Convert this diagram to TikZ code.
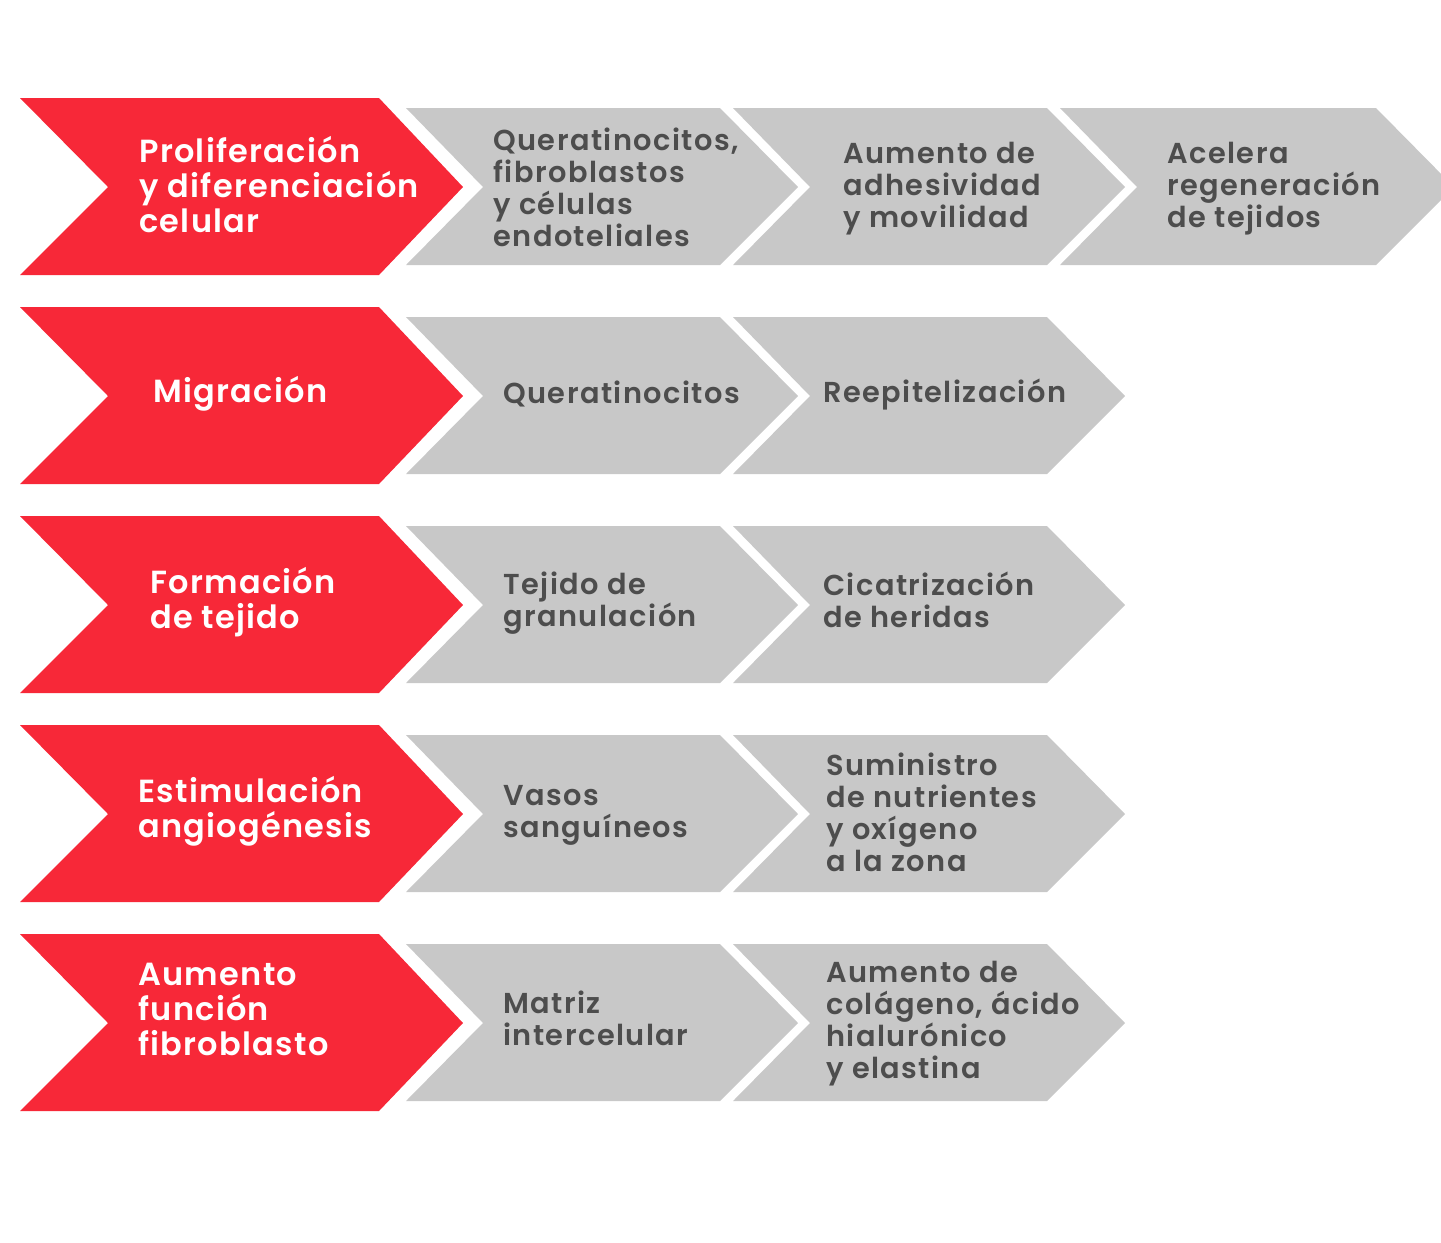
\documentclass[tikz,border=0pt]{standalone}
\usepackage{fontspec}
\newfontfamily\redfont{Poppins SemiBold}[LetterSpace=4]
\newfontfamily\grayfont{Poppins SemiBold}[LetterSpace=5]
\definecolor{chevred}{RGB}{247,40,56}
\definecolor{chevgray}{RGB}{200,200,200}
\definecolor{chevtext}{RGB}{77,77,77}

\begin{document}
\begin{tikzpicture}[x=0.02cm, y=-0.02cm,
    redtext/.style={anchor=base west, inner sep=0pt, align=left, text=white,
      font=\redfont\fontsize{18.2}{19.9}\selectfont},
    graytext/.style={anchor=base west, inner sep=0pt, align=left, text=chevtext,
      font=\grayfont\fontsize{16.4}{18.2}\selectfont}]
  \useasboundingbox (0,0) rectangle (1441,1242);
  % chevrons
  \foreach \c in {187,396,605,814,1023} {
    \fill[chevred] (20,\c-89) -- (379,\c-89) -- (463,\c) -- (379,\c+88)
      -- (20,\c+88) -- (108,\c) -- cycle;
    \foreach \s in {0,327} {
      \fill[chevgray] (406+\s,\c-79) -- (720+\s,\c-79) -- (798+\s,\c)
        -- (720+\s,\c+78) -- (406+\s,\c+78) -- (483+\s,\c) -- cycle;
    }
  }
  \fill[chevgray] (1060,108) -- (1376,108) -- (1454,187) -- (1376,265)
    -- (1060,265) -- (1137,187) -- cycle;
  % row 1 (nodes sit on the baseline of their last line)
  \node[redtext] (P1) at (139,232) {Proliferación\\y diferenciación\\celular};
  \node[graytext] (P1a) at (493,246) {Queratinocitos,\\fibroblastos\\y células\\endoteliales};
  \node[graytext] (P1b) at (843,227) {Aumento de\\adhesividad\\y movilidad};
  \node[graytext] (P1c) at (1167,227) {Acelera\\regeneración\\de tejidos};
  % row 2
  \node[redtext] (P2) at (153,402) {Migración};
  \node[graytext] (P2a) at (503,403) {Queratinocitos};
  \node[graytext] (P2b) at (823,402) {Reepitelización};
  % row 3
  \node[redtext] (P3) at (150,628) {Formación\\de tejido};
  \node[graytext] (P3a) at (503,626) {Tejido de\\granulación};
  \node[graytext] (P3b) at (823,627) {Cicatrización\\de heridas};
  % row 4
  \node[redtext] (P4) at (138,837) {Estimulación\\angiogénesis};
  \node[graytext] (P4a) at (503,837) {Vasos\\sanguíneos};
  \node[graytext] (P4b) at (826,871) {Suministro\\de nutrientes\\y oxígeno\\a la zona};
  % row 5
  \node[redtext] (P5) at (138,1055) {Aumento\\función\\fibroblasto};
  \node[graytext] (P5a) at (503,1045) {Matriz\\intercelular};
  \node[graytext] (P5b) at (826,1078) {Aumento de\\colágeno, ácido\\hialurónico\\y elastina};
\end{tikzpicture}
\end{document}
